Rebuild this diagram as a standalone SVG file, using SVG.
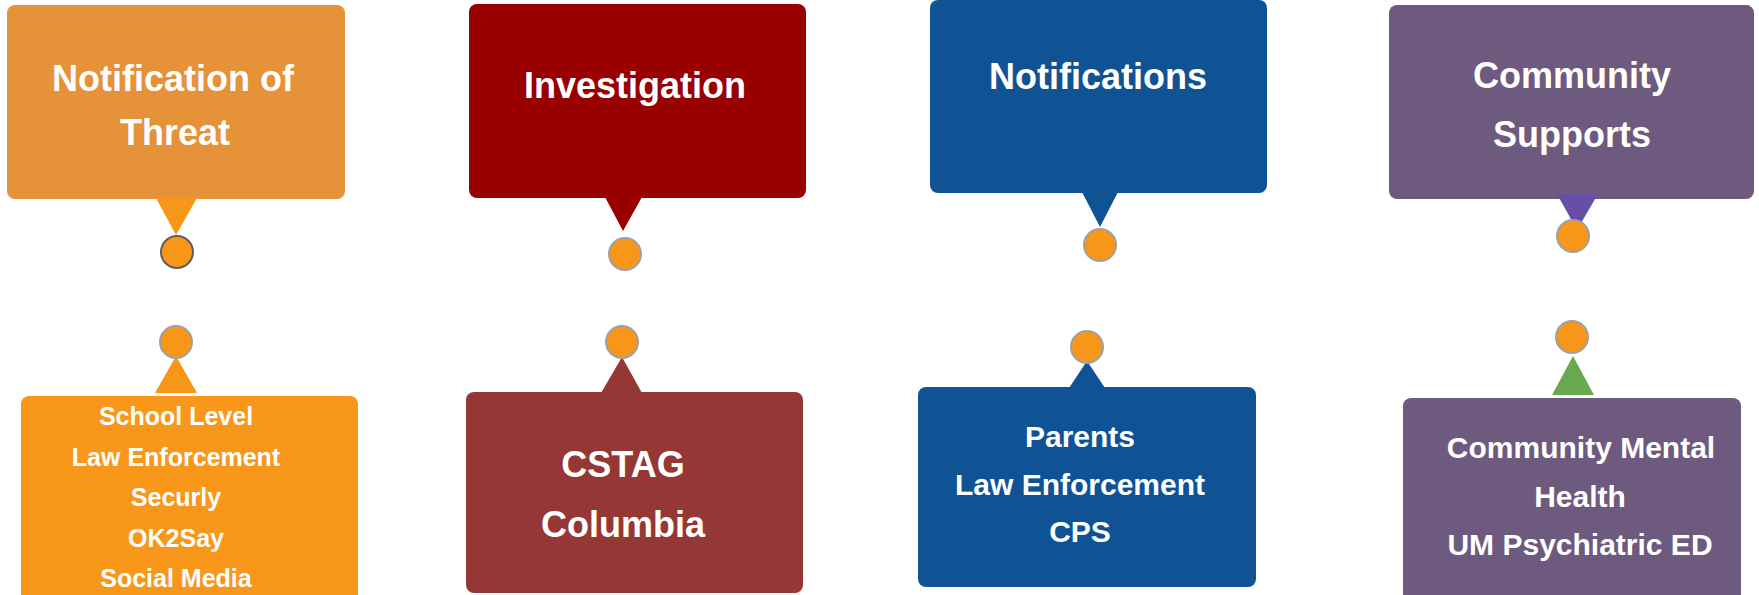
<svg xmlns="http://www.w3.org/2000/svg" width="1759" height="595" viewBox="0 0 1759 595">
<style>
.t{font-family:"Liberation Sans",Arial,sans-serif;font-weight:bold;fill:#FFFFFF;text-anchor:middle}
.h{font-size:36px}
.s{font-size:25px}
.m{font-size:30px}
.dot{fill:#F8961A;stroke:#A0A0A0;stroke-width:2}
</style>
<rect width="1759" height="595" fill="#FFFFFF"/>
<g id="node-notification-of-threat">
<rect x="7" y="5" width="338" height="194" rx="8" fill="#E59239"/>
<polygon points="156,198 197,198 176,235" fill="#F8961A"/>
<text class="t h" x="173" y="91">Notification of</text>
<text class="t h" x="175" y="145">Threat</text>
</g>
<g id="node-investigation">
<rect x="469" y="4" width="337" height="194" rx="8" fill="#990000"/>
<polygon points="605,197 642,197 623,231" fill="#990000"/>
<text class="t h" x="635" y="98">Investigation</text>
</g>
<g id="node-notifications">
<rect x="930" y="0" width="337" height="193" rx="8" fill="#0F5395"/>
<polygon points="1082,192 1118,192 1100,227" fill="#0F5395"/>
<text class="t h" x="1098" y="89">Notifications</text>
</g>
<g id="node-community-supports">
<rect x="1389" y="5" width="365" height="194" rx="8" fill="#6E5A7E"/>
<polygon points="1557,194 1598,194 1577,230" fill="#674EA7"/>
<text class="t h" x="1572" y="88">Community</text>
<text class="t h" x="1572" y="147">Supports</text>
</g>
<g id="node-sources">
<polygon points="155,393 197,393 176,356" fill="#F8961A"/>
<rect x="21" y="396" width="337" height="210" rx="8" fill="#F8971A"/>
<text class="t s" x="176" y="425">School Level</text>
<text class="t s" x="176" y="466">Law Enforcement</text>
<text class="t s" x="176" y="506">Securly</text>
<text class="t s" x="176" y="547">OK2Say</text>
<text class="t s" x="176" y="587">Social Media</text>
</g>
<g id="node-cstag">
<polygon points="601,393 642,393 622,357" fill="#953735"/>
<rect x="466" y="392" width="337" height="201" rx="8" fill="#953735"/>
<text class="t h" x="623" y="477">CSTAG</text>
<text class="t h" x="623" y="537">Columbia</text>
</g>
<g id="node-parents">
<polygon points="1069,388 1105,388 1087,361" fill="#0F5395"/>
<rect x="918" y="387" width="338" height="200" rx="8" fill="#0F5395"/>
<text class="t m" x="1080" y="447">Parents</text>
<text class="t m" x="1080" y="495">Law Enforcement</text>
<text class="t m" x="1080" y="542">CPS</text>
</g>
<g id="node-mental-health">
<polygon points="1552,395 1594,395 1573,356" fill="#6AA84F"/>
<rect x="1403" y="398" width="338" height="210" rx="8" fill="#6E5A7E"/>
<text class="t m" x="1581" y="458">Community Mental</text>
<text class="t m" x="1580" y="507">Health</text>
<text class="t m" x="1580" y="555">UM Psychiatric ED</text>
</g>
<g id="connectors">
<circle class="dot" cx="177" cy="252" r="16" style="stroke:#5F5F5F"/>
<circle class="dot" cx="625" cy="254" r="16"/>
<circle class="dot" cx="1100" cy="245" r="16"/>
<circle class="dot" cx="1573" cy="236" r="16"/>
<circle class="dot" cx="176" cy="342" r="16"/>
<circle class="dot" cx="622" cy="342" r="16"/>
<circle class="dot" cx="1087" cy="347" r="16"/>
<circle class="dot" cx="1572" cy="337" r="16"/>
</g>
</svg>
